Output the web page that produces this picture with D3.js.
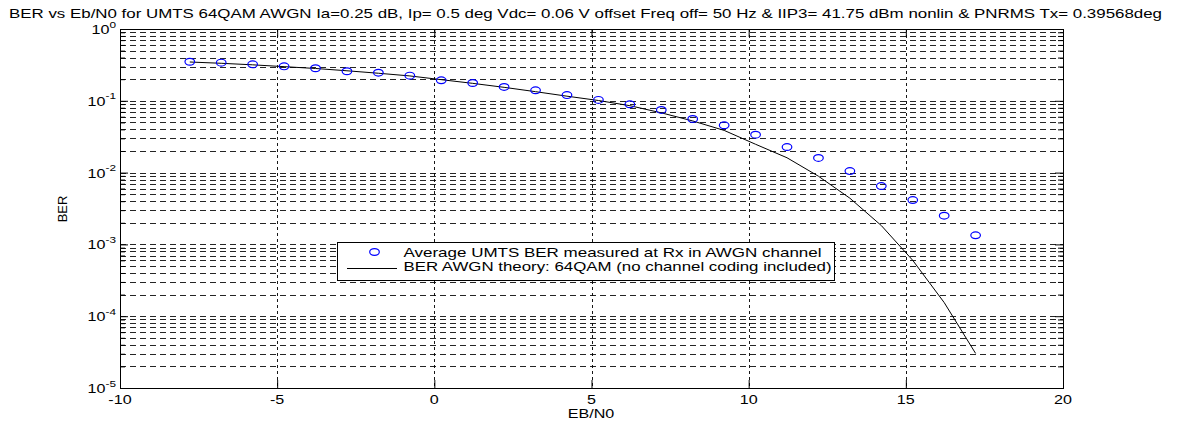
<!DOCTYPE html>
<html>
<head>
<meta charset="utf-8">
<script src="https://cdn.jsdelivr.net/npm/d3@7"></script>
<style>
  html, body { margin: 0; padding: 0; background: #fff; }
  svg { display: block; }
  text { font-family: "Liberation Sans", Arial, sans-serif; fill: #000; }
</style>
</head>
<body>
<svg id="chart" width="1183" height="421"></svg>
<script>
// Eb/N0 in dB (SNR 0..25 dB shifted by 10*log10(6))
const ebn0 = [-7.78, -6.78, -5.78, -4.78, -3.78, -2.78, -1.78, -0.78, 0.22, 1.22,
              2.22, 3.22, 4.22, 5.22, 6.22, 7.22, 8.22, 9.22, 10.22, 11.22,
              12.22, 13.22, 14.22, 15.22, 16.22, 17.22];

// Average BER measured at the receiver
const berMeasured = [0.350, 0.340, 0.322, 0.302, 0.284, 0.258, 0.246, 0.224, 0.193, 0.177,
                     0.156, 0.140, 0.120, 0.103, 0.0894, 0.0745, 0.0558, 0.0456, 0.0337, 0.0227,
                     0.0160, 0.0105, 0.0065, 0.00415, 0.00251, 0.00134];

// Theoretical 64QAM BER in AWGN
const berTheory = [0.347, 0.333, 0.317, 0.299, 0.282, 0.262, 0.242, 0.222, 0.197, 0.175,
                   0.154, 0.134, 0.116, 0.101, 0.0855, 0.068, 0.0524, 0.0387, 0.0248, 0.0161,
                   0.0089, 0.0044, 0.00183, 0.00060, 0.000155, 0.0000303];

const xTicks = [-10, -5, 0, 5, 10, 15, 20];
const yDecades = [0, -1, -2, -3, -4, -5];

const titleText = "BER vs Eb/N0 for UMTS 64QAM AWGN Ia=0.25 dB, Ip= 0.5 deg Vdc= 0.06 V offset Freq off= 50 Hz & IIP3= 41.75 dBm nonlin & PNRMS Tx= 0.39568deg";
const xLabel = "EB/N0";
const yLabel = "BER";
const legendLabels = ["Average UMTS BER measured at Rx in AWGN channel",
                      "BER AWGN theory: 64QAM (no channel coding included)"];

const svg = d3.select("#chart");
const plotL = 120, plotR = 1063, plotT = 29, plotB = 388;
const SX = 1.24; // horizontal stretch of the label glyphs

const x = d3.scaleLinear().domain([-10, 20]).range([plotL, plotR]);
const y = d3.scaleLog().domain([1e-5, 1]).range([plotB, plotT]);

// minor log values 2..9 per decade
const minorVals = [];
for (let e = -5; e < 0; e++) for (let m = 2; m <= 9; m++) minorVals.push(m * Math.pow(10, e));
const majorVals = yDecades.map(e => Math.pow(10, e));

// Grid
const grid = svg.append("g");
grid.selectAll("line.h").data(minorVals.concat(majorVals.filter(v => v < 1 && v > 1e-5)))
  .join("line")
  .attr("x1", plotL).attr("x2", plotR)
  .attr("y1", d => Math.round(y(d)) + 0.5).attr("y2", d => Math.round(y(d)) + 0.5)
  .attr("stroke", "#000").attr("stroke-width", 1)
  .attr("stroke-dasharray", "6,4").attr("opacity", 0.85);
grid.selectAll("line.v").data(xTicks.filter(v => v > -10 && v < 20))
  .join("line")
  .attr("x1", d => Math.round(x(d)) + 0.5).attr("x2", d => Math.round(x(d)) + 0.5)
  .attr("y1", plotT).attr("y2", plotB)
  .attr("stroke", "#000").attr("stroke-width", 1)
  .attr("stroke-dasharray", "3,3").attr("opacity", 0.9);

// Axes (ticks inward)
const gx = svg.append("g").attr("transform", `translate(0,${plotB})`)
  .call(d3.axisBottom(x).tickValues(xTicks).tickSize(-8).tickSizeOuter(0).tickFormat(""));
const gxTop = svg.append("g").attr("transform", `translate(0,${plotT})`)
  .call(d3.axisTop(x).tickValues(xTicks).tickSize(-8).tickSizeOuter(0).tickFormat(""));
const gyL = svg.append("g").attr("transform", `translate(${plotL},0)`)
  .call(d3.axisLeft(y).tickValues(majorVals).tickSize(-8).tickSizeOuter(0).tickFormat(""));
const gyLm = svg.append("g").attr("transform", `translate(${plotL},0)`)
  .call(d3.axisLeft(y).tickValues(minorVals).tickSize(-5).tickSizeOuter(0).tickFormat(""));
const gyR = svg.append("g").attr("transform", `translate(${plotR},0)`)
  .call(d3.axisRight(y).tickValues(majorVals).tickSize(-8).tickSizeOuter(0).tickFormat(""));
const gyRm = svg.append("g").attr("transform", `translate(${plotR},0)`)
  .call(d3.axisRight(y).tickValues(minorVals).tickSize(-5).tickSizeOuter(0).tickFormat(""));
[gx, gxTop, gyL, gyLm, gyR, gyRm].forEach(g => {
  g.select(".domain").remove();
  g.selectAll("line").attr("stroke", "#000");
});

// Axes box
svg.append("rect")
  .attr("x", plotL + 0.5).attr("y", plotT + 0.5)
  .attr("width", plotR - plotL).attr("height", plotB - plotT)
  .attr("fill", "none").attr("stroke", "#000").attr("stroke-width", 1);

// X tick labels
svg.append("g").selectAll("text").data(xTicks).join("text")
  .attr("transform", d => `translate(${x(d)},403.5) scale(${SX},1)`)
  .attr("text-anchor", "middle").attr("font-size", 13)
  .text(d => String(d));

// Y tick labels 10^e
const yl = svg.append("g").selectAll("text").data(yDecades).join("text")
  .attr("transform", d => `translate(116,${y(Math.pow(10, d)) + 5}) scale(${SX},1)`)
  .attr("text-anchor", "end").attr("font-size", 13);
yl.append("tspan").text("10");
yl.append("tspan").attr("dy", -6.5).attr("font-size", 9.5).text(d => String(d));

// Axis labels
svg.append("text")
  .attr("transform", `translate(591,418) scale(${SX},1)`)
  .attr("text-anchor", "middle").attr("font-size", 13).text(xLabel);
svg.append("text")
  .attr("transform", "translate(67,209) rotate(-90)")
  .attr("text-anchor", "middle").attr("font-size", 13).text(yLabel);

// Title
svg.append("text")
  .attr("x", 585.5).attr("y", 18)
  .attr("text-anchor", "middle").attr("font-size", 13)
  .attr("textLength", 1153).attr("lengthAdjust", "spacingAndGlyphs")
  .text(titleText);

// Theory curve
const line = d3.line().x((d, i) => x(ebn0[i])).y(d => y(d));
svg.append("path").datum(berTheory)
  .attr("d", line).attr("fill", "none")
  .attr("stroke", "#000").attr("stroke-width", 1);

// Measured points
svg.append("g").selectAll("ellipse").data(berMeasured).join("ellipse")
  .attr("cx", (d, i) => x(ebn0[i])).attr("cy", d => y(d))
  .attr("rx", 4.8).attr("ry", 3.4)
  .attr("fill", "none").attr("stroke", "#0000ff").attr("stroke-width", 1.2);

// Legend
const lg = svg.append("g");
lg.append("rect").attr("x", 337.5).attr("y", 242.5).attr("width", 497).attr("height", 38)
  .attr("fill", "#fff").attr("stroke", "#000").attr("stroke-width", 1);
lg.append("ellipse").attr("cx", 374.5).attr("cy", 252).attr("rx", 4.8).attr("ry", 3.4)
  .attr("fill", "none").attr("stroke", "#0000ff").attr("stroke-width", 1.2);
lg.append("line").attr("x1", 347).attr("x2", 397).attr("y1", 268.5).attr("y2", 268.5)
  .attr("stroke", "#000").attr("stroke-width", 1);
lg.append("text").attr("x", 403.5).attr("y", 256.5).attr("font-size", 13)
  .attr("textLength", 418).attr("lengthAdjust", "spacingAndGlyphs").text(legendLabels[0]);
lg.append("text").attr("x", 403.5).attr("y", 271).attr("font-size", 13)
  .attr("textLength", 428).attr("lengthAdjust", "spacingAndGlyphs").text(legendLabels[1]);
</script>
</body>
</html>
